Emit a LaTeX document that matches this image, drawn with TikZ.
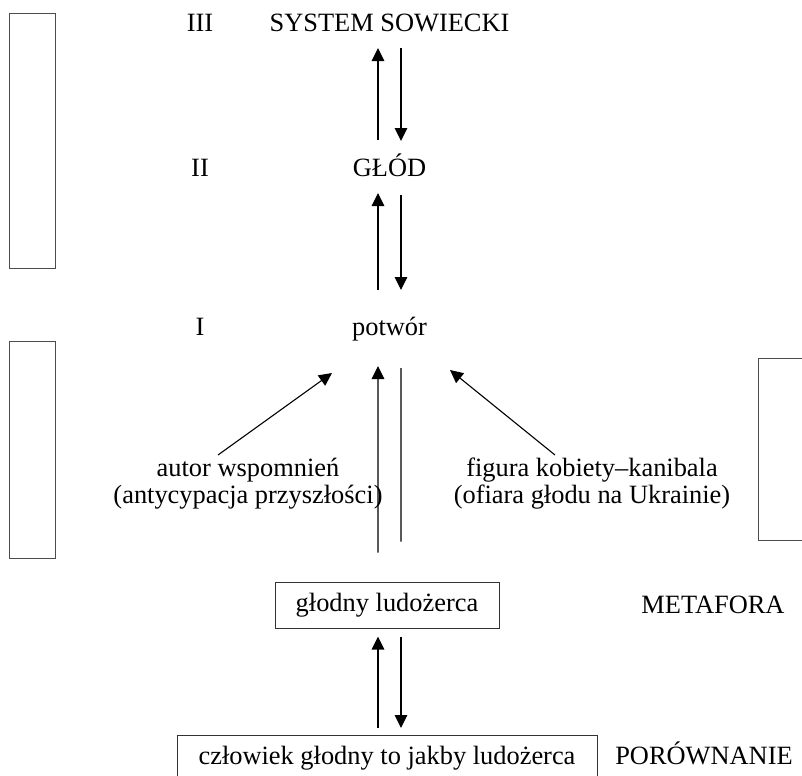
\documentclass[tikz,border=0pt]{standalone}
\usepackage{fontspec}
\setmainfont{Liberation Serif}
\usetikzlibrary{arrows.meta,calc}
\tikzset{
  lab/.style={inner sep=0pt, anchor=base, font=\fontsize{26.5}{30}\selectfont},
  arr/.style={line width=1.1bp, -{Triangle[length=13bp,width=12.5bp]}},
  plain/.style={line width=1.1bp},
  frame/.style={draw=black!70, line width=1bp},
  boxed/.style={draw=black!80, line width=1bp, font=\fontsize{26.5}{30}\selectfont}
}
\begin{document}
\begin{tikzpicture}[x=1bp,y=-1bp]
\useasboundingbox (0,0) rectangle (802,776);
\clip (0,0) rectangle (802,776);
% side frames
\draw[frame] (9,14) rectangle (55,268);
\draw[frame] (9,341) rectangle (55,558);
\draw[frame] (758,358) rectangle (815,540);
% level labels
\node[lab] (l3) at (200,32) {III};
\node[lab] (l2) at (200,176) {II};
\node[lab] (l1) at (200,335) {I};
\node[lab] (sys) at (389.5,32) {SYSTEM SOWIECKI};
\node[lab] (gl) at (389.5,176) {GŁÓD};
\node[lab] (pot) at (389.5,335) {potwór};
\node[lab] (aut1) at (248,476) {autor wspomnień};
\node[lab] (aut2) at (248,503) {(antycypacja przyszłości)};
\node[lab] (fig1) at (592,476) {figura kobiety–kanibala};
\node[lab] (fig2) at (592,503) {(ofiara głodu na Ukrainie)};
\node[boxed, minimum width=224bp, minimum height=46bp, inner sep=0pt] (glod) at (387,605) {głodny ludożerca};
\node[lab] (met) at (713,613) {METAFORA};
\node[boxed, minimum width=420bp, inner xsep=0pt, inner ysep=0pt, text height=29bp, text depth=31bp, anchor=north] (bot) at (387,735) {człowiek głodny to jakby ludożerca};
\node[lab] (por) at (704,764) {PORÓWNANIE};
% arrows SYSTEM <-> GLOD
\draw[arr] ([xshift=-11.5bp,yshift=36bp]gl.base) -- ([xshift=-11.5bp,yshift=-16bp]sys.base);
\draw[arr] ([xshift=11.5bp,yshift=-16bp]sys.base) -- ([xshift=11.5bp,yshift=35bp]gl.base);
% arrows GLOD <-> potwor
\draw[arr] ([xshift=-11.5bp,yshift=45bp]pot.base) -- ([xshift=-11.5bp,yshift=-17bp]gl.base);
\draw[arr] ([xshift=11.5bp,yshift=-19bp]gl.base) -- ([xshift=11.5bp,yshift=45bp]pot.base);
% long arrow and line
\draw[arr] ([xshift=-9bp,yshift=29bp]glod.north) -- ([xshift=-11.5bp,yshift=-31bp]pot.base);
\draw[plain] ([xshift=11.5bp,yshift=-33bp]pot.base) -- ([xshift=14bp,yshift=40bp]glod.north);
% diagonal arrows
\draw[arr] ([xshift=-30bp,yshift=21bp]aut1.base) -- ([xshift=-57.5bp,yshift=-38bp]pot.base);
\draw[arr] ([xshift=-37bp,yshift=21bp]fig1.base) -- ([xshift=60.5bp,yshift=-35bp]pot.base);
% arrows glodny <-> czlowiek
\draw[arr] ([xshift=-9bp,yshift=7bp]bot.north) -- ([xshift=-9bp,yshift=-8bp]glod.south);
\draw[arr] ([xshift=14bp,yshift=-8bp]glod.south) -- ([xshift=14bp,yshift=7bp]bot.north);
\end{tikzpicture}
\end{document}
